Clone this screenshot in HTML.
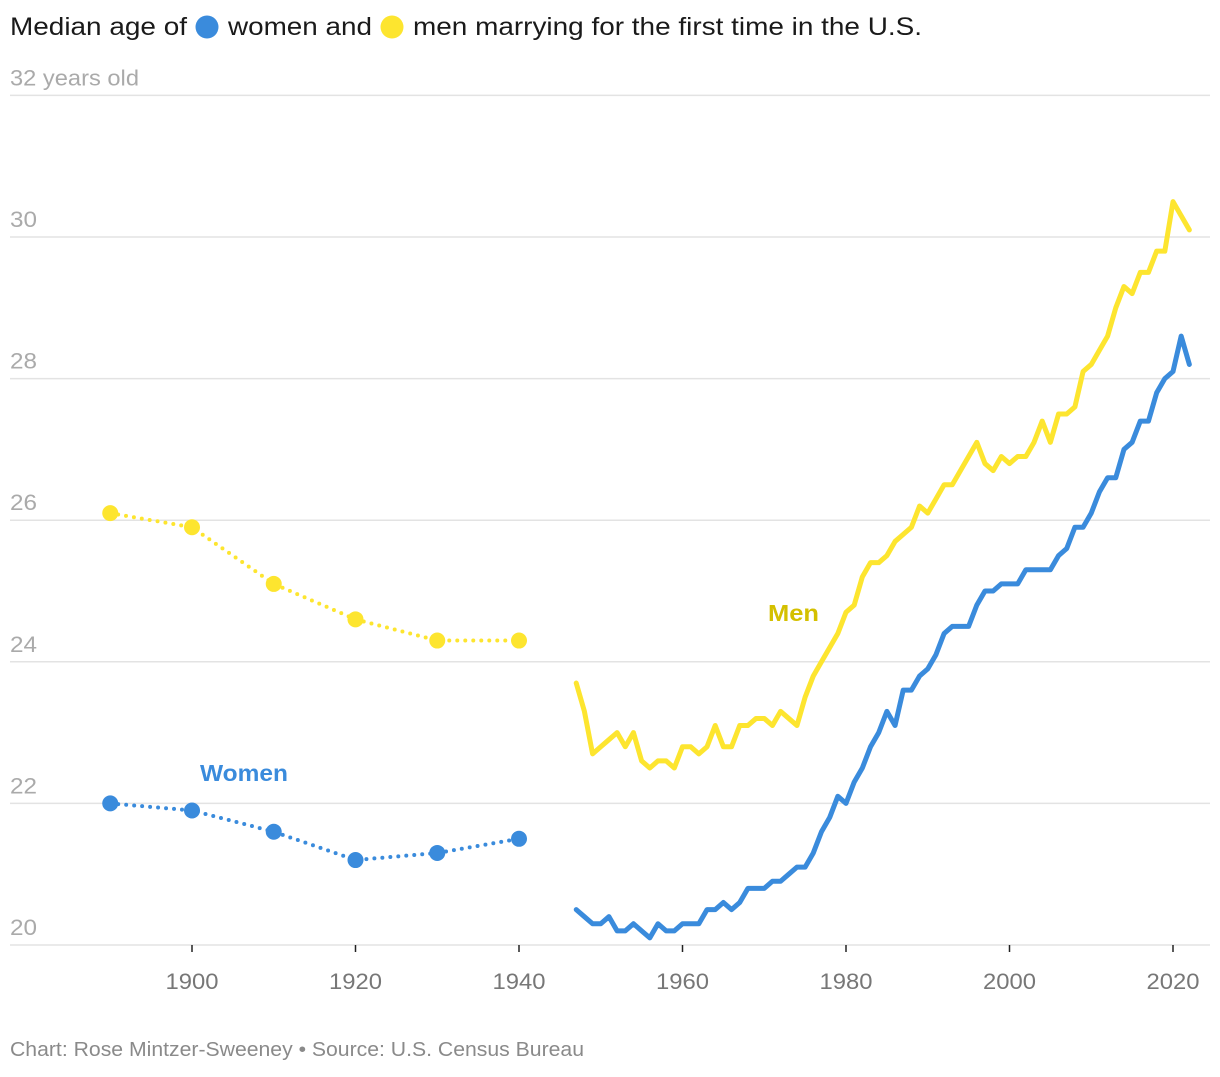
<!DOCTYPE html>
<html><head><meta charset="utf-8"><style>
body{margin:0;background:#fff;width:1220px;height:1072px;overflow:hidden;font-family:"Liberation Sans",sans-serif}
</style></head><body>
<svg width="1220" height="1072" id="chart" xmlns="http://www.w3.org/2000/svg">
<g font-size="25" fill="#1a1a1a">
<text x="10" y="35" textLength="177" lengthAdjust="spacingAndGlyphs">Median age of</text>
<circle cx="207" cy="27" r="11.5" fill="#3a8bdc"/>
<text x="228" y="35" textLength="144" lengthAdjust="spacingAndGlyphs">women and</text>
<circle cx="392" cy="27" r="11.5" fill="#fde52f"/>
<text x="413" y="35" textLength="509" lengthAdjust="spacingAndGlyphs">men marrying for the first time in the U.S.</text>
</g>
<g id="grid"></g>
<g id="xaxis"></g>
<g id="series"></g>
<text x="200" y="781" font-size="23" font-weight="bold" fill="#3a8bdc" textLength="88" lengthAdjust="spacingAndGlyphs">Women</text>
<text x="768" y="621" font-size="23" font-weight="bold" fill="#d4c000" textLength="51" lengthAdjust="spacingAndGlyphs">Men</text>
<text x="10" y="1056" font-size="20" fill="#8a8a8a" textLength="574" lengthAdjust="spacingAndGlyphs">Chart: Rose Mintzer-Sweeney • Source: U.S. Census Bureau</text>
</svg>
<script>
const yTicks=[20,22,24,26,28,30,32];
const xTicks=[1900,1920,1940,1960,1980,2000,2020];
const histYears=[1890,1900,1910,1920,1930,1940];
const histMen=[26.1,25.9,25.1,24.6,24.3,24.3];
const histWomen=[22.0,21.9,21.6,21.2,21.3,21.5];
const annualStart=1947;
const annualMen=[23.7,23.3,22.7,22.8,22.9,23.0,22.8,23.0,22.6,22.5,22.6,22.6,22.5,22.8,22.8,22.7,22.8,23.1,22.8,22.8,23.1,23.1,23.2,23.2,23.1,23.3,23.2,23.1,23.5,23.8,24.0,24.2,24.4,24.7,24.8,25.2,25.4,25.4,25.5,25.7,25.8,25.9,26.2,26.1,26.3,26.5,26.5,26.7,26.9,27.1,26.8,26.7,26.9,26.8,26.9,26.9,27.1,27.4,27.1,27.5,27.5,27.6,28.1,28.2,28.4,28.6,29.0,29.3,29.2,29.5,29.5,29.8,29.8,30.5,30.3,30.1];
const annualWomen=[20.5,20.4,20.3,20.3,20.4,20.2,20.2,20.3,20.2,20.1,20.3,20.2,20.2,20.3,20.3,20.3,20.5,20.5,20.6,20.5,20.6,20.8,20.8,20.8,20.9,20.9,21.0,21.1,21.1,21.3,21.6,21.8,22.1,22.0,22.3,22.5,22.8,23.0,23.3,23.1,23.6,23.6,23.8,23.9,24.1,24.4,24.5,24.5,24.5,24.8,25.0,25.0,25.1,25.1,25.1,25.3,25.3,25.3,25.3,25.5,25.6,25.9,25.9,26.1,26.4,26.6,26.6,27.0,27.1,27.4,27.4,27.8,28.0,28.1,28.6,28.2];
const NS='http://www.w3.org/2000/svg';
const X=yr=>192+(yr-1900)*8.175;
const Y=v=>945-(v-20)*70.8;
function mk(tag,attrs,parent){const e=document.createElementNS(NS,tag);for(const k in attrs)e.setAttribute(k,attrs[k]);parent.appendChild(e);return e;}
const grid=document.getElementById('grid'),xa=document.getElementById('xaxis'),ser=document.getElementById('series');
yTicks.forEach(t=>{
  const l=mk('line',{x1:10,x2:1210,y1:Y(t),y2:Y(t),stroke:'#e3e3e3','stroke-width':1.5},grid);
  
  
  const big=t===32;
  const tx=mk('text',{x:10,y:Y(t)-10,'font-size':22,fill:'#aaaaaa',textLength:big?129:27,lengthAdjust:'spacingAndGlyphs'},grid);
  tx.textContent=big?'32 years old':String(t);
  
  
});
xTicks.forEach(t=>{
  const l=mk('line',{x1:X(t),x2:X(t),y1:945,y2:952,stroke:'#222','stroke-width':1.5},xa);
  
  
  const tx=mk('text',{x:X(t),y:989,'font-size':22,fill:'#777','text-anchor':'middle',textLength:53,lengthAdjust:'spacingAndGlyphs'},xa);
  tx.textContent=t;
  
  
});
function hist(vals,color,name){
  const p=mk('polyline',{points:histYears.map((y,i)=>X(y)+','+Y(vals[i])).join(' '),fill:'none',stroke:color,'stroke-width':4,'stroke-dasharray':'0 8','stroke-linecap':'round'},ser);
  
  
  histYears.forEach((y,i)=>{
    const c=mk('circle',{cx:X(y),cy:Y(vals[i]),r:8,fill:color},ser);
    
    
  });
}
function annual(vals,color,name){
  const p=mk('polyline',{points:vals.map((v,i)=>X(annualStart+i)+','+Y(v)).join(' '),fill:'none',stroke:color,'stroke-width':5,'stroke-linejoin':'round','stroke-linecap':'round'},ser);
  
  
}
hist(histMen,'#fde52f','men');
hist(histWomen,'#3a8bdc','women');
annual(annualMen,'#fde52f','men');
annual(annualWomen,'#3a8bdc','women');
</script>
</body></html>
